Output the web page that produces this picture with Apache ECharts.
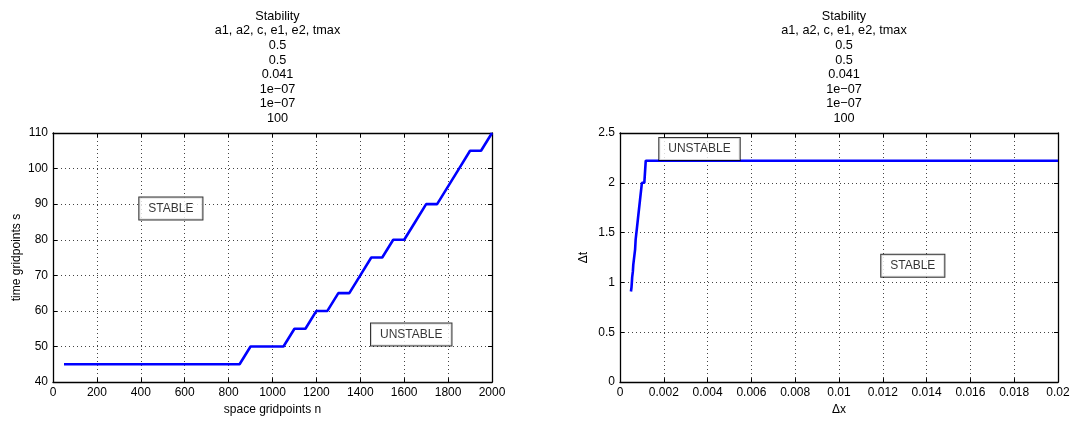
<!DOCTYPE html>
<html>
<head>
<meta charset="utf-8">
<script src="https://cdn.jsdelivr.net/npm/echarts@6/dist/echarts.min.js"></script>
<style>
html,body{margin:0;padding:0;background:#fff;}
#c{width:1075px;height:421px;}
</style>
</head>
<body>
<div id="c"></div>
<script>
// ---- data ----
var titleLines = ['Stability', 'a1, a2, c, e1, e2, tmax', '0.5', '0.5', '0.041', '1e\u221207', '1e\u221207', '100'];

// left panel: space gridpoints n vs time gridpoints s
var nPoints = [50,100,150,200,250,300,350,400,450,500,550,600,650,700,750,800,850,
               900,950,1000,1050,1100,1150,1200,1250,1300,1350,1400,1450,1500,
               1550,1600,1650,1700,1750,1800,1850,1900,1950,2000];
var sPoints = [45,45,45,45,45,45,45,45,45,45,45,45,45,45,45,45,45,
               50,50,50,50,55,55,60,60,65,65,70,75,75,
               80,80,85,90,90,95,100,105,105,110];

// right panel: delta x vs delta t
var dxPoints = [0.02,0.01,0.006667,0.005,0.004,0.003333,0.002857,0.0025,0.002222,0.002,
                0.001818,0.001667,0.001538,0.001429,0.001333,0.00125,0.001176,
                0.001111,0.001053,0.001,0.000952,0.000909,0.00087,0.000833,0.0008,
                0.000769,0.000741,0.000714,0.00069,0.000667,0.000645,0.000625,
                0.000606,0.000588,0.000571,0.000556,0.000541,0.000526,0.000513,0.0005];
var dtPoints = [2.222,2.222,2.222,2.222,2.222,2.222,2.222,2.222,2.222,2.222,
                2.222,2.222,2.222,2.222,2.222,2.222,2.222,
                2.0,2.0,2.0,2.0,1.818,1.818,1.667,1.667,1.538,1.538,1.429,1.333,1.333,
                1.25,1.25,1.176,1.111,1.111,1.053,1.0,0.952,0.952,0.909];

// annotation boxes [x, y, text]
var leftNotes = [[537, 88.8, 'STABLE'], [1632, 53.4, 'UNSTABLE']];
var rightNotes = [[0.00363, 2.34, 'UNSTABLE'], [0.01337, 1.168, 'STABLE']];

// ---- chart ----
var FONT = '"Liberation Sans", Arial, Helvetica, sans-serif';
function zip(a, b){ var r=[]; for (var i=0;i<a.length;i++) r.push([a[i], b[i]]); return r; }

var chart = echarts.init(document.getElementById('c'), null, {renderer:'canvas'});

var splitStyle = {show:true, lineStyle:{color:'#444', width:1, type:[1,3]}};
var lineAx = {show:true, onZero:false, lineStyle:{color:'#000', width:1.3}};
var tickIn = {show:true, inside:true, length:4, lineStyle:{color:'#000', width:1}};
var lbl = {color:'#000', fontSize:12, fontFamily:FONT};

function fmtNum(v){ return String(+v.toFixed(4)); }

function mainX(grid, min, max, interval, name, gap){
  return {type:'value', gridIndex:grid, min:min, max:max, interval:interval,
    name:name, nameLocation:'middle', nameGap:gap,
    nameTextStyle:{color:'#000', fontSize:12, fontFamily:FONT},
    axisLine:lineAx, axisTick:tickIn, splitLine:splitStyle,
    axisLabel:Object.assign({margin:5, formatter:fmtNum}, lbl)};
}
function mainY(grid, min, max, interval, name, gap){
  return {type:'value', gridIndex:grid, min:min, max:max, interval:interval,
    name:name, nameLocation:'middle', nameGap:gap,
    nameTextStyle:{color:'#000', fontSize:12, fontFamily:FONT},
    axisLine:lineAx, axisTick:tickIn, splitLine:splitStyle,
    axisLabel:Object.assign({margin:5, formatter:fmtNum}, lbl)};
}
function secX(grid, min, max, interval){
  return {type:'value', gridIndex:grid, min:min, max:max, interval:interval, position:'top',
    axisLine:lineAx, axisTick:tickIn, splitLine:{show:false}, axisLabel:{show:false}};
}
function secY(grid, min, max, interval){
  return {type:'value', gridIndex:grid, min:min, max:max, interval:interval, position:'right',
    axisLine:lineAx, axisTick:tickIn, splitLine:{show:false}, axisLabel:{show:false}};
}
function notes(arr, xi, yi){
  return {type:'scatter', xAxisIndex:xi, yAxisIndex:yi, silent:true, z:10,
    symbolSize:1, itemStyle:{color:'rgba(0,0,0,0)'},
    data: arr.map(function(d){ return {value:[d[0], d[1]], name:d[2]}; }),
    label:{show:true, position:'inside', formatter:'{b}', color:'#000', fontSize:12, fontFamily:FONT,
      backgroundColor:'#fff', borderColor:'#000', borderWidth:1, padding:[4,9], lineHeight:14}};
}

var titleText = titleLines.join('\n');
var option = {
  backgroundColor:'#fff',
  animation:false,
  title:[
    {text:titleText, left:272.5, top:4, textAlign:'center',
     textStyle:{fontSize:12.7, fontWeight:'normal', color:'#000', fontFamily:FONT, lineHeight:14.6}},
    {text:titleText, left:839, top:4, textAlign:'center',
     textStyle:{fontSize:12.7, fontWeight:'normal', color:'#000', fontFamily:FONT, lineHeight:14.6}}
  ],
  grid:[
    {left:53, top:133, width:439, height:254, show:false},
    {left:620, top:133, width:438, height:254, show:false}
  ],
  xAxis:[
    mainX(0, 0, 2000, 200, 'space gridpoints n', 17),
    secX(0, 0, 2000, 200),
    mainX(1, 0, 0.02, 0.002, '\u0394x', 16),
    secX(1, 0, 0.02, 0.002)
  ],
  yAxis:[
    mainY(0, 40, 110, 10, 'time gridpoints s', 30),
    secY(0, 40, 110, 10),
    mainY(1, 0, 2.5, 0.5, '\u0394t', 30),
    secY(1, 0, 2.5, 0.5)
  ],
  series:[
    {type:'line', xAxisIndex:0, yAxisIndex:0, data:zip(nPoints, sPoints), showSymbol:false,
     lineStyle:{color:'#0000ff', width:2.6}, itemStyle:{color:'#0000ff'}, z:5},
    {type:'line', xAxisIndex:2, yAxisIndex:2, data:zip(dxPoints, dtPoints), showSymbol:false,
     lineStyle:{color:'#0000ff', width:2.6}, itemStyle:{color:'#0000ff'}, z:5},
    notes(leftNotes, 0, 0),
    notes(rightNotes, 2, 2)
  ]
};
chart.setOption(option);
</script>
</body>
</html>
